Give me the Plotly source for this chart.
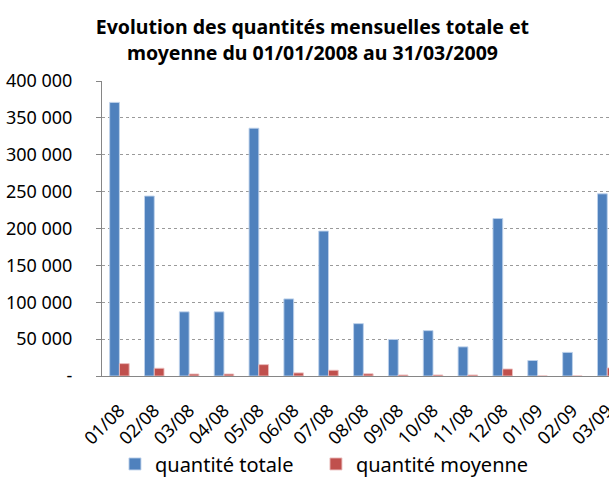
import plotly.graph_objects as go

months = ["01/08", "02/08", "03/08", "04/08", "05/08", "06/08", "07/08", "08/08",
          "09/08", "10/08", "11/08", "12/08", "01/09", "02/09", "03/09"]
quantite_totale = [371000, 244000, 87000, 87000, 336000, 104500, 196500, 71000,
                   49500, 61500, 39500, 213500, 21000, 32000, 247000]
quantite_moyenne = [16800, 10500, 2700, 2700, 15400, 4200, 7800, 3000,
                    1400, 1400, 1400, 9500, 0, 0, 11000]
y_tickvals = [0, 50000, 100000, 150000, 200000, 250000, 300000, 350000, 400000]
y_ticktext = ["-", "50 000", "100 000", "150 000", "200 000", "250 000",
              "300 000", "350 000", "400 000"]

FONT = "Noto Sans"

fig = go.Figure()
fig.add_trace(go.Bar(
    x=months, y=quantite_totale, name="quantité totale", legend="legend",
    marker=dict(color="#4F81BD", line=dict(color="rgba(190,210,235,0.9)", width=1)),
))
fig.add_trace(go.Bar(
    x=months, y=quantite_moyenne, name="quantité moyenne", legend="legend2",
    marker=dict(color="#C0504D", line=dict(color="rgba(235,190,190,0.9)", width=1)),
))

legend_common = dict(
    orientation="h", y=-0.232, yanchor="top", xanchor="left",
    font=dict(family=FONT, size=20, color="#000000"),
    itemwidth=30, bgcolor="rgba(0,0,0,0)",
)

fig.update_layout(
    width=609, height=477,
    paper_bgcolor="white", plot_bgcolor="white",
    barmode="group", bargap=0.44, bargroupgap=0,
    margin=dict(l=102, r=0, t=81, b=101, autoexpand=False),
    title=dict(
        text="<b>Evolution des quantités mensuelles totale et<br>moyenne du 01/01/2008 au 31/03/2009</b>",
        x=0.513, xanchor="center", y=0.928, yanchor="middle",
        font=dict(family=FONT, size=19.5, color="#000000"),
    ),
    font=dict(family=FONT, color="#000000"),
    showlegend=True,
    legend=dict(legend_common, x=0.0256),
    legend2=dict(legend_common, x=0.422),
    xaxis=dict(
        type="category", range=[-0.5, 14.05], automargin=False,
        tickangle=-45, tickfont=dict(family=FONT, size=18, color="#000000"),
        ticklabelstandoff=16,
        showline=True, linecolor="#868686", linewidth=1,
        ticks="", showgrid=False,
    ),
    yaxis=dict(
        range=[0, 400000], tickvals=y_tickvals, ticktext=y_ticktext, automargin=False,
        tickfont=dict(family=FONT, size=18, color="#000000"),
        ticklabelstandoff=20,
        showline=True, linecolor="#868686", linewidth=1,
        ticks="outside", ticklen=5, tickcolor="#868686",
        showgrid=True, gridcolor="#9a9a9a", griddash="dot", gridwidth=1,
        zeroline=False,
    ),
)

fig.write_html("out.html", config={"displayModeBar": False},
               post_script="document.body.style.margin='0px';")
